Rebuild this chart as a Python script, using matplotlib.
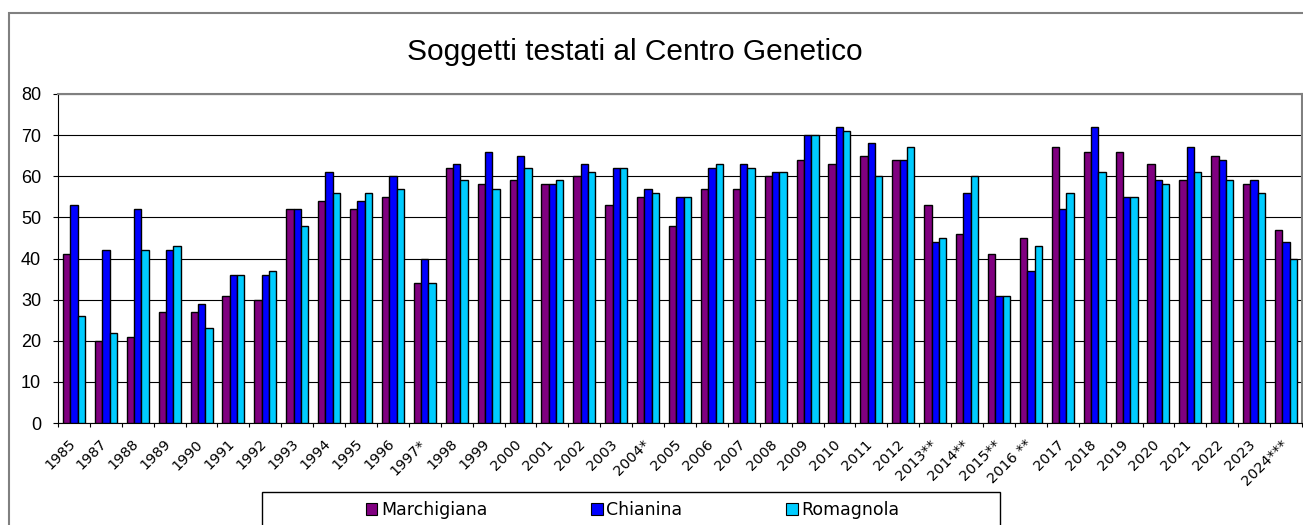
import matplotlib
matplotlib.use('Agg')
import matplotlib.pyplot as plt
import numpy as np
from matplotlib.patches import Patch, Rectangle
from matplotlib.transforms import ScaledTranslation

# ---- data ----
years = ['1985', '1987', '1988', '1989', '1990', '1991', '1992', '1993', '1994',
         '1995', '1996', '1997*', '1998', '1999', '2000', '2001', '2002', '2003',
         '2004*', '2005', '2006', '2007', '2008', '2009', '2010', '2011', '2012',
         '2013**', '2014**', '2015**', '2016 **', '2017', '2018', '2019', '2020',
         '2021', '2022', '2023', '2024***']
marchigiana = [41, 20, 21, 27, 27, 31, 30, 52, 54, 52, 55, 34, 62, 58, 59, 58, 60, 53,
               55, 48, 57, 57, 60, 64, 63, 65, 64, 53, 46, 41, 45, 67, 66, 66, 63,
               59, 65, 58, 47]
chianina = [53, 42, 52, 42, 29, 36, 36, 52, 61, 54, 60, 40, 63, 66, 65, 58, 63, 62,
            57, 55, 62, 63, 61, 70, 72, 68, 64, 44, 56, 31, 37, 52, 72, 55, 59,
            67, 64, 59, 44]
romagnola = [26, 22, 42, 43, 23, 36, 37, 48, 56, 56, 57, 34, 59, 57, 62, 59, 61, 62,
             56, 55, 63, 62, 61, 70, 71, 60, 67, 45, 60, 31, 43, 56, 61, 55, 58,
             61, 59, 56, 40]
series_names = ['Marchigiana', 'Chianina', 'Romagnola']
series_colors = ['#800080', '#0000FF', '#00CCFF']
title = 'Soggetti testati al Centro Genetico'

# ---- figure ----
W, H = 1303, 525
fig = plt.figure(figsize=(W / 100, H / 100), dpi=100)
fig.patch.set_facecolor('white')

ax = fig.add_axes([58 / W, 1 - 423 / H, (1302 - 58) / W, (423 - 94) / H])

x = np.arange(len(years))
bw = 0.23
for k, (vals, col, name) in enumerate(zip([marchigiana, chianina, romagnola],
                                          series_colors, series_names)):
    ax.bar(x + (k - 1) * bw, vals, width=bw, color=col, edgecolor='black',
           linewidth=1.0, label=name, zorder=3)

ax.set_xlim(-0.5, len(years) - 0.5)
ax.set_ylim(0, 80)
ax.set_yticks(range(0, 81, 10))
ax.yaxis.grid(True, color='black', linewidth=0.8)
ax.set_axisbelow(True)

ax.set_xticks(x)
ax.set_xticklabels(years, rotation=45, ha='right', fontsize=10.4, family='DejaVu Sans')
ax.set_xticks(np.arange(-0.5, len(years)), minor=True)
ax.tick_params(axis='x', which='major', length=0, pad=10)
ax.tick_params(axis='x', which='minor', length=3, width=0.8, direction='out', color='black')
ax.tick_params(axis='y', length=3.6, width=0.8, pad=8.6, labelsize=13, color='black')
for lab in ax.get_yticklabels():
    lab.set_family('Liberation Sans')

offset = ScaledTranslation(4 / 100, 0, fig.dpi_scale_trans)
for lab in ax.get_xticklabels():
    lab.set_transform(lab.get_transform() + offset)

for s in ['top', 'right']:
    ax.spines[s].set_color('#808080')
    ax.spines[s].set_linewidth(1.5)
for s in ['left', 'bottom']:
    ax.spines[s].set_color('black')
    ax.spines[s].set_linewidth(0.8)

# title
fig.text(635 / W, 1 - 60 / H, title, ha='center', va='baseline', fontsize=21.5,
         family='Liberation Sans')

# legend
handles = [Patch(facecolor=c, edgecolor='black', linewidth=0.8) for c in series_colors]
fig.legend(handles, series_names, loc='center left',
           bbox_to_anchor=(366 / W, 1 - 510 / H), ncol=3, frameon=False,
           prop={'family': 'DejaVu Sans', 'size': 12.5},
           handlelength=0.65, handleheight=0.65, handletextpad=0.2,
           columnspacing=6.0, borderpad=0, borderaxespad=0)
fig.add_artist(Rectangle((262 / W, -0.1), (1000 - 262) / W, 1 - 492 / H + 0.1,
                         transform=fig.transFigure, fill=False, edgecolor='black',
                         linewidth=1.0))

# outer chart border
fig.add_artist(Rectangle((9 / W, -0.1), 2, 1 - 13 / H + 0.1,
                         transform=fig.transFigure, fill=False, edgecolor='#808080',
                         linewidth=1.5))

fig.savefig('out.png', dpi=100)
